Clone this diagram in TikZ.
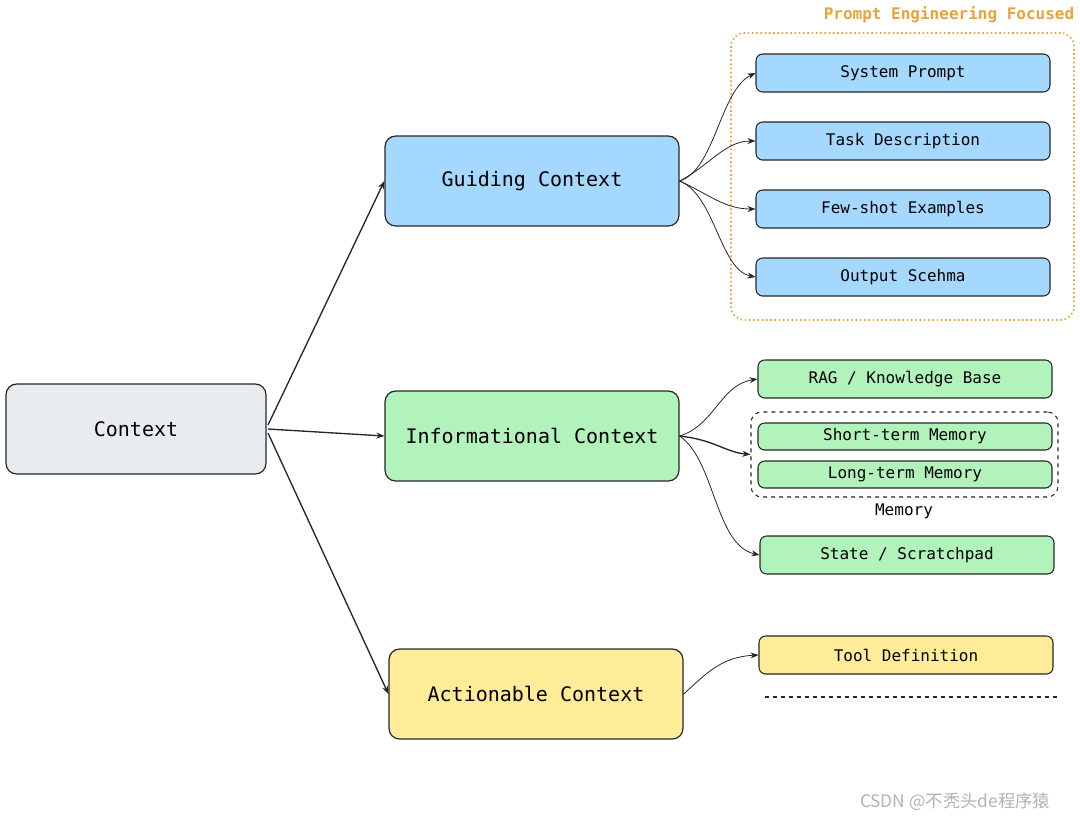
\documentclass[tikz,border=0pt]{standalone}
\usepackage{fontspec}
\setmainfont{DejaVu Sans Mono}
\newfontfamily\cjk{Noto Sans CJK SC}
\usetikzlibrary{arrows.meta}
\definecolor{cblue}{HTML}{A5D8FF}
\definecolor{cgreen}{HTML}{B2F2BB}
\definecolor{cyel}{HTML}{FFEC99}
\definecolor{cgray}{HTML}{E9ECEF}
\definecolor{corange}{HTML}{E8A33D}
\begin{document}
\begin{tikzpicture}[x=0.75pt,y=-0.75pt,
 big/.style={draw=black!85,line width=0.9pt,rounded corners=8pt,minimum width=294*0.75pt,minimum height=90*0.75pt,font=\fontsize{15}{17}\selectfont},
 small/.style={draw=black!85,line width=0.8pt,rounded corners=5pt,minimum width=294*0.75pt,minimum height=38*0.75pt,font=\fontsize{12}{14}\selectfont},
 tiny/.style={small,minimum height=27*0.75pt},
 arr/.style={-{Stealth[length=6pt,width=4.5pt]},line width=0.6pt,black!85},
 arrb/.style={arr,line width=1pt}]
\useasboundingbox (0,0) rectangle (1080,822);
\node[big,fill=cgray,minimum width=260*0.75pt] (ctx) at (136,429) {Context};
\node[big,fill=cblue] (gui) at (532,181) {Guiding Context};
\node[big,fill=cgreen] (inf) at (532,436) {Informational Context};
\node[big,fill=cyel] (act) at (536,694) {Actionable Context};
\node[small,fill=cblue] (sys) at (903,73) {System Prompt};
\node[small,fill=cblue] (task) at (903,141) {Task Description};
\node[small,fill=cblue] (few) at (903,209) {Few-shot Examples};
\node[small,fill=cblue] (out) at (903,277) {Output Scehma};
\node[draw=corange,dotted,line width=1.2pt,rounded corners=10pt,minimum width=343*0.75pt,minimum height=287*0.75pt] (pe) at (902.5,176.5) {};
\node[text=corange,font=\fontsize{12}{14}\selectfont\bfseries] (pet) at (949,15) {Prompt Engineering Focused};
\node[small,fill=cgreen] (rag) at (905,379) {RAG / Knowledge Base};
\node[draw=black!85,dashed,line width=0.8pt,rounded corners=8pt,minimum width=307*0.75pt,minimum height=85*0.75pt] (mem) at (904.5,454.5) {};
\node[tiny,fill=cgreen] (st) at (905,436.5) {Short-term Memory};
\node[tiny,fill=cgreen] (lt) at (905,474.5) {Long-term Memory};
\node[font=\fontsize{12}{14}\selectfont] (meml) at (904,511) {Memory};
\node[small,fill=cyel] (tool) at (906,655) {Tool Definition};
\node[small,fill=cgreen] (state) at (907,555) {State / Scratchpad};
\coordinate (dl1) at (765,697); \coordinate (dl2) at (1058,697);
\draw[dashed,line width=0.8pt,black!85] (dl1) -- (dl2);
\node[text=black!30,font=\fontsize{13}{15}\selectfont\cjk] (wm) at (955,802) {CSDN @不秃头de程序猿};
\draw[arrb] (268,425) -- (gui.west);
\draw[arrb] (268,429) -- (inf.west);
\draw[arrb] (268,433) -- (act.west);
\draw[arr] (gui.east) .. controls (715,170) and (720,90) .. (sys.west);
\draw[arr] (gui.east) .. controls (710,165) and (725,141) .. (task.west);
\draw[arr] (gui.east) .. controls (710,195) and (725,209) .. (few.west);
\draw[arr] (gui.east) .. controls (715,195) and (720,270) .. (out.west);
\draw[arr] (inf.east) .. controls (715,425) and (720,385) .. (rag.west);
\draw[arrb] (inf.east) .. controls (715,440) and (725,452) .. (mem.west);
\draw[arr] (inf.east) .. controls (715,460) and (715,545) .. (state.west);
\draw[arr] (act.east) .. controls (705,675) and (720,657) .. (tool.west);
\end{tikzpicture}
\end{document}
